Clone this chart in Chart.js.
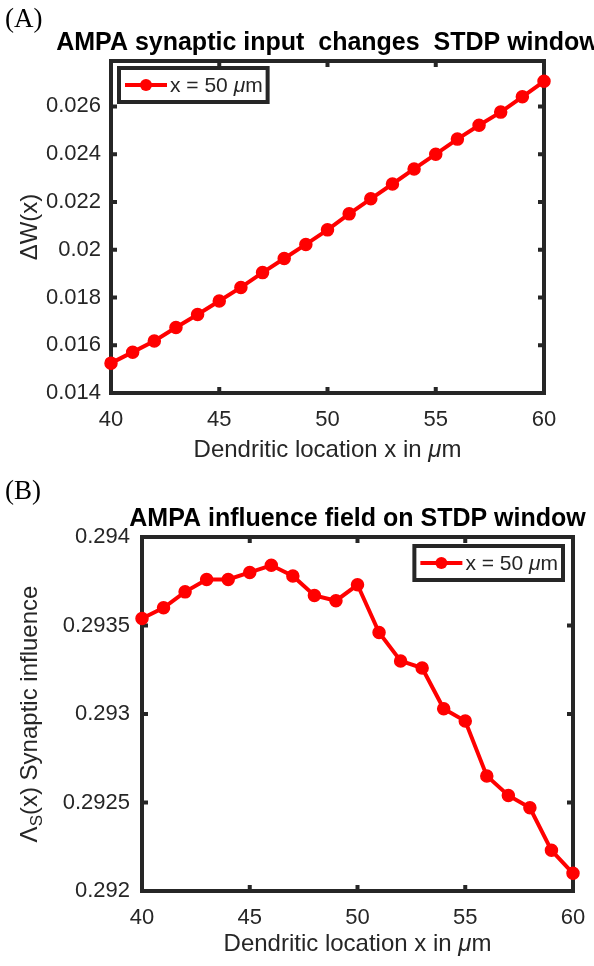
<!DOCTYPE html>
<html>
<head>
<meta charset="utf-8">
<script src="https://cdn.jsdelivr.net/npm/chart.js@4.4.0/dist/chart.umd.min.js"></script>
<style>
  html, body { margin: 0; padding: 0; background: #fff; overflow: hidden; }
  body { width: 594px; height: 966px; position: relative; }
  .panel { position: absolute; left: 5px; z-index: 2; font-family: 'Liberation Serif', 'Times New Roman', serif; font-size: 27px; color: #000; line-height: 30px; }
  canvas { position: absolute; left: 0; }
</style>
</head>
<body>
<canvas id="chartA" width="594" height="470" style="top:0"></canvas>
<canvas id="chartB" width="594" height="483" style="top:483px"></canvas>
<div class="panel" style="top:3px">(A)</div>
<div class="panel" style="top:475px">(B)</div>
<script>
// dendritic locations (µm)
var xLocations = [40, 41, 42, 43, 44, 45, 46, 47, 48, 49, 50, 51, 52, 53, 54, 55, 56, 57, 58, 59, 60];

// panel A: weight change ΔW(x)
var deltaW = [0.01525, 0.01571, 0.01618, 0.01674, 0.01729, 0.01785, 0.01842, 0.01904, 0.01963, 0.02022, 0.02083,
              0.0215, 0.02213, 0.02275, 0.02338, 0.024, 0.02463, 0.02521, 0.02576, 0.0264, 0.02705];

// panel B: synaptic influence Λs(x)
var influence = [0.29354, 0.2936, 0.29369, 0.29376, 0.29376, 0.2938, 0.29384, 0.29378, 0.29367, 0.29364, 0.29373,
                 0.29346, 0.2933, 0.29326, 0.29303, 0.29296, 0.29265, 0.29254, 0.29247, 0.29223, 0.2921];

// tick values and labels
var xTicks = [40, 45, 50, 55, 60];
var xTickLabels = ['40', '45', '50', '55', '60'];
var yTicksA = [0.014, 0.016, 0.018, 0.02, 0.022, 0.024, 0.026];
var yTickLabelsA = ['0.014', '0.016', '0.018', '0.02', '0.022', '0.024', '0.026'];
var yTicksB = [0.292, 0.2925, 0.293, 0.2935, 0.294];
var yTickLabelsB = ['0.292', '0.2925', '0.293', '0.2935', '0.294'];

var FONT = "'Liberation Sans', Arial, Helvetica, sans-serif";
var AXIS_COLOR = '#262626';
var RED = '#ff0000';

// draw a run of text parts: [text, style] where style is '' | 'i' (italic) | 's' (subscript)
function drawRich(ctx, parts, x, y, size, color, align, rotate) {
    ctx.save();
    ctx.translate(x, y);
    if (rotate) ctx.rotate(-Math.PI / 2);
    var fontOf = function (st) {
        return (st === 'i' ? 'italic ' : '') + (st === 's' ? Math.round(size * 0.72) : size) + 'px ' + FONT;
    };
    var total = 0;
    parts.forEach(function (p) { ctx.font = fontOf(p[1]); total += ctx.measureText(p[0]).width; });
    var cx = align === 'center' ? -total / 2 : 0;
    ctx.fillStyle = color;
    ctx.textBaseline = 'middle';
    ctx.textAlign = 'left';
    parts.forEach(function (p) {
        ctx.font = fontOf(p[1]);
        ctx.fillText(p[0], cx, p[1] === 's' ? size * 0.3 : 0);
        cx += ctx.measureText(p[0]).width;
    });
    ctx.restore();
    return total;
}

function measureRich(ctx, parts, size) {
    var total = 0;
    ctx.save();
    parts.forEach(function (p) {
        ctx.font = (p[1] === 'i' ? 'italic ' : '') + size + 'px ' + FONT;
        total += ctx.measureText(p[0]).width;
    });
    ctx.restore();
    return total;
}

// matlab-like box, inward ticks, titles and framed legend
var matlabAxes = {
    id: 'matlabAxes',
    beforeDatasetsDraw: function (chart, args, o) {
        var ctx = chart.ctx, a = chart.chartArea, x = chart.scales.x, y = chart.scales.y;
        ctx.save();
        ctx.strokeStyle = AXIS_COLOR;
        ctx.lineWidth = 4;
        ctx.beginPath();
        x.ticks.forEach(function (t) {
            var px = x.getPixelForValue(t.value);
            ctx.moveTo(px, a.bottom); ctx.lineTo(px, a.bottom - 6);
            ctx.moveTo(px, a.top); ctx.lineTo(px, a.top + 6);
        });
        y.ticks.forEach(function (t) {
            var py = y.getPixelForValue(t.value);
            ctx.moveTo(a.left, py); ctx.lineTo(a.left + 6, py);
            ctx.moveTo(a.right, py); ctx.lineTo(a.right - 6, py);
        });
        ctx.stroke();
        ctx.strokeRect(a.left, a.top, a.right - a.left, a.bottom - a.top);
        ctx.restore();

        // title, centred over the axes, not squeezed
        ctx.save();
        ctx.font = 'bold 25px ' + FONT;
        ctx.fillStyle = '#000';
        ctx.textAlign = 'center';
        ctx.textBaseline = 'middle';
        ctx.fillText(o.title, (a.left + a.right) / 2, o.titleY);
        ctx.restore();

        drawRich(ctx, o.xLabel, (a.left + a.right) / 2, o.xLabelY, 24, AXIS_COLOR, 'center', false);
        drawRich(ctx, o.yLabel, o.yLabelX, (a.top + a.bottom) / 2, 24, AXIS_COLOR, 'center', true);
    },
    afterDatasetsDraw: function (chart, args, o) {
        var ctx = chart.ctx, a = chart.chartArea, ds = chart.data.datasets[0];
        var parts = o.legend.parts;
        var tw = measureRich(ctx, parts, 21);
        var w = 6 + 42 + 3 + tw + 5, h = 34;
        var bx = o.legend.side === 'left' ? a.left + o.legend.dx : a.right - o.legend.dx - w;
        var by = a.top + o.legend.dy;
        ctx.save();
        ctx.fillStyle = '#fff';
        ctx.fillRect(bx, by, w, h);
        ctx.strokeStyle = AXIS_COLOR;
        ctx.lineWidth = 4;
        ctx.strokeRect(bx, by, w, h);
        ctx.strokeStyle = ds.borderColor;
        ctx.lineWidth = ds.borderWidth;
        ctx.beginPath();
        ctx.moveTo(bx + 6, by + h / 2);
        ctx.lineTo(bx + 48, by + h / 2);
        ctx.stroke();
        ctx.fillStyle = ds.pointBackgroundColor;
        ctx.beginPath();
        ctx.arc(bx + 27, by + h / 2, ds.pointRadius, 0, Math.PI * 2);
        ctx.fill();
        ctx.restore();
        drawRich(ctx, parts, bx + 51, by + h / 2 + 1, 21, AXIS_COLOR, 'left', false);
    }
};

function makeChart(id, values, yMin, yMax, yTicks, yTickLabels, layout, opts) {
    return new Chart(document.getElementById(id), {
        type: 'line',
        data: {
            datasets: [{
                label: 'x = 50 μm',
                data: xLocations.map(function (x, i) { return { x: x, y: values[i] }; }),
                borderColor: RED,
                backgroundColor: RED,
                borderWidth: 4,
                pointRadius: 6,
                pointBackgroundColor: RED,
                pointBorderColor: RED,
                pointBorderWidth: 1.5,
                tension: 0,
                clip: 10
            }]
        },
        options: {
            responsive: false,
            animation: false,
            layout: { padding: layout.padding },
            scales: {
                x: {
                    type: 'linear',
                    min: 40,
                    max: 60,
                    grid: { display: false },
                    border: { display: false },
                    afterBuildTicks: function (s) { s.ticks = xTicks.map(function (v) { return { value: v }; }); },
                    afterFit: function (s) { s.height = layout.xHeight; },
                    ticks: {
                        color: AXIS_COLOR,
                        font: { family: FONT, size: 22 },
                        padding: 6,
                        maxRotation: 0,
                        callback: function (v, i) { return xTickLabels[i]; }
                    }
                },
                y: {
                    min: yMin,
                    max: yMax,
                    grid: { display: false },
                    border: { display: false },
                    afterBuildTicks: function (s) { s.ticks = yTicks.map(function (v) { return { value: v }; }); },
                    afterFit: function (s) { s.width = layout.yWidth; },
                    ticks: {
                        color: AXIS_COLOR,
                        font: { family: FONT, size: 22 },
                        padding: layout.yPad,
                        callback: function (v, i) { return yTickLabels[i]; }
                    }
                }
            },
            plugins: {
                legend: { display: false },
                tooltip: { enabled: false },
                matlabAxes: opts
            }
        },
        plugins: [matlabAxes]
    });
}

var xLabelParts = [['Dendritic location x in ', ''], ['μ', 'i'], ['m', '']];
var legendParts = [['x = 50 ', ''], ['μ', 'i'], ['m', '']];

makeChart('chartA', deltaW, 0.014, 0.0279, yTicksA, yTickLabelsA,
    { padding: { top: 61, right: 50, bottom: 0, left: 0 }, xHeight: 77, yWidth: 111, yPad: 2 },
    {
        title: 'AMPA synaptic input  changes  STDP window',
        titleY: 43,
        xLabel: xLabelParts,
        xLabelY: 450,
        yLabel: [['ΔW(x)', '']],
        yLabelX: 30,
        legend: { side: 'left', dx: 8, dy: 7, parts: legendParts }
    });

makeChart('chartB', influence, 0.292, 0.294, yTicksB, yTickLabelsB,
    { padding: { top: 54, right: 21, bottom: 0, left: 0 }, xHeight: 75, yWidth: 142, yPad: 4 },
    {
        title: 'AMPA influence field on STDP window',
        titleY: 36,
        xLabel: xLabelParts,
        xLabelY: 461,
        yLabel: [['Λ', ''], ['S', 's'], ['(x) Synaptic influence', '']],
        yLabelX: 30,
        legend: { side: 'right', dx: 10, dy: 9, parts: legendParts }
    });
</script>
</body>
</html>
